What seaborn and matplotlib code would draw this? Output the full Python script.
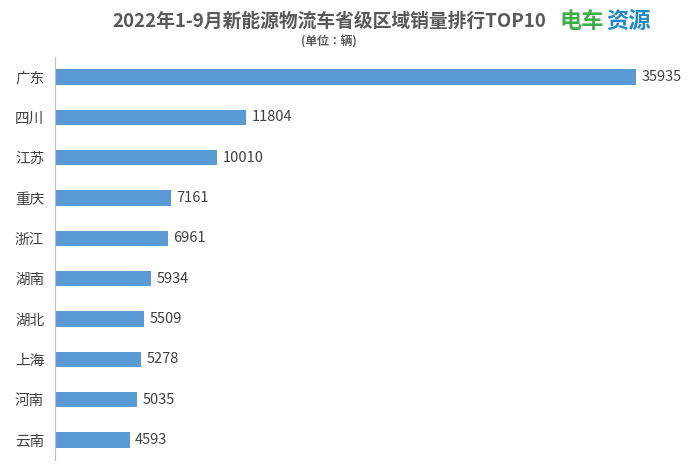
import matplotlib
matplotlib.use("Agg")
import matplotlib.pyplot as plt
from matplotlib import font_manager
import seaborn as sns
import pandas as pd

provinces = ["广东", "四川", "江苏", "重庆", "浙江", "湖南", "湖北", "上海", "河南", "云南"]
sales = [35935, 11804, 10010, 7161, 6961, 5934, 5509, 5278, 5035, 4593]

names = {f.name for f in font_manager.fontManager.ttflist}
cjk = [n for n in ["Noto Sans CJK SC", "Noto Sans CJK JP", "Noto Sans CJK TC", "Noto Sans CJK KR"] if n in names]
if not cjk:
    cjk = [f.name for f in font_manager.fontManager.ttflist if "CJK" in f.name][:1]
plt.rcParams["font.family"] = "sans-serif"
plt.rcParams["font.sans-serif"] = cjk + ["DejaVu Sans"]
df = pd.DataFrame({"province": provinces, "sales": sales})

fig = plt.figure(figsize=(7, 4.67), dpi=100)
ax = fig.add_axes([0.079, 0.015, 0.914, 0.863])
sns.barplot(data=df, x="sales", y="province", color="#5B9BD5", saturation=1, width=0.38, ax=ax)
ax.set_xlim(0, 39585)
ax.set_ylim(9.5, -0.5)
for i, v in enumerate(sales):
    ax.text(v + 350, i, str(v), va="center", ha="left", fontsize=10.5, color="#404040")
ax.set_xlabel("")
ax.set_ylabel("")
ax.set_xticks([])
ax.tick_params(axis="y", length=0, labelsize=10.5, labelcolor="#404040", pad=8)
for s in ["top", "right", "bottom"]:
    ax.spines[s].set_visible(False)
ax.spines["left"].set_color("#BFBFBF")

fig.text(0.47, 0.955, "2022年1-9月新能源物流车省级区域销量排行TOP10", ha="center", va="center",
         fontsize=13.5, fontweight="bold", color="#595959")
fig.text(0.47, 0.91, "(单位：辆)", ha="center", va="center", fontsize=8.5, fontweight="bold", color="#595959")
fig.text(0.8, 0.955, "电车", ha="left", va="center", fontsize=16, fontweight="bold", color="#3DAE4A")
fig.text(0.866, 0.955, "资源", ha="left", va="center", fontsize=16, fontweight="bold", color="#1E88C8")
fig.savefig("out.png", dpi=100)
